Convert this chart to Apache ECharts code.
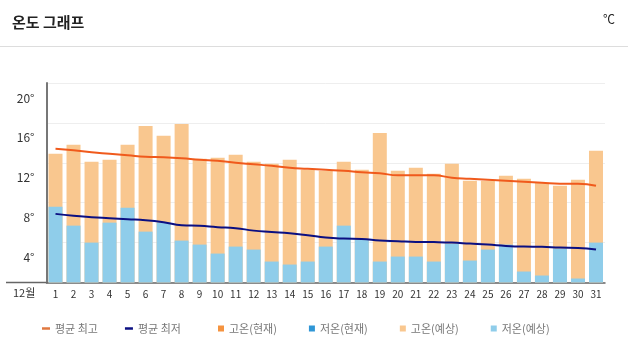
<!DOCTYPE html>
<html>
<head>
<meta charset="utf-8">
<script src="https://cdn.jsdelivr.net/npm/echarts@6/dist/echarts.min.js"></script>
<style>
html,body{margin:0;padding:0;background:#fff;}
#c{width:628px;height:355px;}
</style>
</head>
<body>
<div id="c"></div>
<script>
var days = ['1','2','3','4','5','6','7','8','9','10','11','12','13','14','15','16','17','18','19','20','21','22','23','24','25','26','27','28','29','30','31'];
var yTicks = [0, 4, 8, 12, 16, 20];
var avgHigh = [13.4,13.25,13.05,12.9,12.75,12.6,12.55,12.45,12.3,12.2,12.0,11.85,11.7,11.5,11.4,11.3,11.2,11.05,10.95,10.75,10.75,10.75,10.5,10.4,10.3,10.2,10.1,10.0,9.9,9.9,9.7];
var avgLow = [6.88,6.68,6.55,6.45,6.35,6.25,6.05,5.75,5.68,5.55,5.45,5.2,5.07,4.94,4.74,4.5,4.4,4.37,4.2,4.14,4.07,4.05,4.0,3.9,3.8,3.67,3.6,3.58,3.5,3.47,3.3];
var highCurrent = [];
var lowCurrent = [];
var highForecast = [12.9,13.8,12.1,12.3,13.8,15.7,14.7,15.9,12.4,12.5,12.8,12.1,11.9,12.3,11.3,11.2,12.1,11.3,15.0,11.2,11.5,10.9,11.9,10.2,10.2,10.7,10.4,10.0,9.7,10.3,13.2];
var lowForecast = [7.6,5.7,4.0,6.0,7.5,5.1,6.0,4.2,3.8,2.9,3.6,3.3,2.1,1.8,2.1,3.6,5.7,4.3,2.1,2.6,2.6,2.1,3.9,2.2,3.3,3.8,1.1,0.7,3.4,0.4,4.0];

var FONT = '"Noto Sans CJK KR", "Noto Sans", sans-serif';
var chart = echarts.init(document.getElementById('c'), null, {renderer: 'canvas'});
var legendText = {color: '#777', fontSize: 11, fontFamily: FONT};
chart.setOption({
  backgroundColor: '#fff',
  animation: false,
  textStyle: {fontFamily: FONT},
  title: {
    text: '온도 그래프', left: 7, top: 10,
    textStyle: {fontSize: 15, fontWeight: 'bold', color: '#222', fontFamily: FONT}
  },
  graphic: [
    {type: 'line', shape: {x1: 0, y1: 46.5, x2: 628, y2: 46.5}, style: {stroke: '#dddddd', lineWidth: 1}},
    {type: 'text', left: 603, top: 13, style: {text: '℃', fontSize: 12, fill: '#222', fontFamily: FONT}},
    {type: 'line', shape: {x1: 6, y1: 282.5, x2: 47, y2: 282.5}, style: {stroke: '#666', lineWidth: 1.5}},
    {type: 'text', left: 13, top: 287, style: {text: '12월', fontSize: 11, fill: '#333', fontFamily: FONT}}
  ],
  legend: [
    {
      left: 37, top: 318, itemWidth: 8, itemHeight: 2.5, itemGap: 27,
      icon: 'rect', textStyle: legendText,
      data: ['평균 최고', '평균 최저']
    },
    {
      left: 213, top: 318, itemWidth: 6, itemHeight: 6, itemGap: 32,
      icon: 'rect', textStyle: legendText,
      data: ['고온(현재)', '저온(현재)', '고온(예상)', '저온(예상)']
    }
  ],
  grid: {left: 46.5, right: 23, top: 83, bottom: 72.5},
  xAxis: {
    type: 'category', data: days,
    axisLine: {lineStyle: {color: '#666', width: 1.5}},
    axisTick: {show: false},
    axisLabel: {color: '#333', fontSize: 10, margin: 7, fontFamily: FONT, interval: 0}
  },
  yAxis: {
    type: 'value', min: yTicks[0], max: yTicks[yTicks.length - 1], interval: 4,
    axisLine: {show: true, lineStyle: {color: '#777', width: 2}},
    axisTick: {show: false},
    splitLine: {lineStyle: {color: '#eeeeee', width: 1}},
    axisLabel: {
      color: '#333', fontSize: 12, margin: 12, fontFamily: FONT,
      showMinLabel: false,
      verticalAlign: 'top', lineHeight: 14, padding: [8, 0, 0, 0],
      formatter: '{value}°'
    }
  },
  series: [
    {name: '고온(현재)', type: 'bar', data: highCurrent, barWidth: 14, barGap: '-100%', itemStyle: {color: '#f5933f'}},
    {name: '저온(현재)', type: 'bar', data: lowCurrent, barWidth: 14, barGap: '-100%', itemStyle: {color: '#2f96d6'}},
    {name: '고온(예상)', type: 'bar', data: highForecast, barWidth: 14, barGap: '-100%', itemStyle: {color: '#f9c78f'}},
    {name: '저온(예상)', type: 'bar', data: lowForecast, barWidth: 14, barGap: '-100%', itemStyle: {color: '#8fcdea'}},
    {name: '평균 최고', type: 'line', data: avgHigh, smooth: true, symbol: 'none', z: 5,
      lineStyle: {color: '#f05a1c', width: 2}, itemStyle: {color: '#e07840'}},
    {name: '평균 최저', type: 'line', data: avgLow, smooth: true, symbol: 'none', z: 5,
      lineStyle: {color: '#0b0f82', width: 2}, itemStyle: {color: '#0b0f82'}}
  ]
});
</script>
</body>
</html>
